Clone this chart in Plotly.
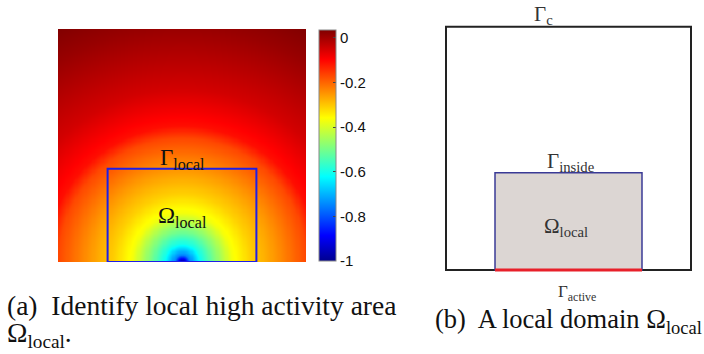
import numpy as np
import plotly.graph_objects as go

# radial profile: distance from bottom-centre source (in half-widths) -> value
profile_r = [0.0, 0.025, 0.06, 0.15, 0.25, 0.40, 0.55, 0.75, 1.0, 1.1, 1.4, 1.9, 2.15]
profile_v = [-1.0, -0.9, -0.75, -0.6, -0.5, -0.37, -0.31, -0.25, -0.17, -0.11, -0.05, 0.01, 0.035]
cbar_ticks = [0, -0.2, -0.4, -0.6, -0.8, -1]
cbar_labels = ["0", "-0.2", "-0.4", "-0.6", "-0.8", "-1"]
z_min, z_max = -1.0, 0.035
local_x = [0.2, 0.8]
local_y = [0.0, 0.4]
outer_x = [0.0, 1.0]
outer_y = [0.0, 1.0]

W, H = 704, 354
def px(v):
    return v / W
def py(v):
    return 1 - v / H

nx, ny = 220, 210
xc = (np.arange(nx) + 0.5) / nx
yc = (np.arange(ny) + 0.5) / ny
X, Y = np.meshgrid(xc, yc)
aspect = 233 / 124.0
R = np.sqrt(((X - 0.5) * 2) ** 2 + (Y * aspect) ** 2)
Z = np.interp(R, profile_r, profile_v)

jet = [[0.0, 'rgb(0,0,143)'], [0.11, 'rgb(0,0,255)'], [0.365, 'rgb(0,255,255)'],
       [0.62, 'rgb(255,255,0)'], [0.873, 'rgb(255,0,0)'], [1.0, 'rgb(128,0,0)']]

fig = go.Figure()
fig.add_trace(go.Heatmap(
    x=xc, y=yc, z=Z, colorscale=jet, zmin=z_min, zmax=z_max, zsmooth='best',
    hoverinfo='skip', xaxis='x', yaxis='y',
    colorbar=dict(
        x=px(319), xanchor='left', y=py(261), yanchor='bottom',
        len=231, lenmode='pixels', thickness=17, thicknessmode='pixels',
        outlinewidth=1, outlinecolor='#888', xpad=0, ypad=0,
        tickvals=cbar_ticks, ticktext=cbar_labels,
        ticks='inside', ticklen=3, tickcolor='#444',
        tickfont=dict(family='Liberation Sans', size=15, color='#111'),
    ),
))

pad = 0.02
fig.update_layout(
    width=W, height=H, margin=dict(l=0, r=0, t=0, b=0),
    paper_bgcolor='white', plot_bgcolor='white', showlegend=False,
    xaxis=dict(domain=[px(58), px(306)], range=[0, 1], visible=False, fixedrange=True),
    yaxis=dict(domain=[py(262), py(29)], range=[0, 1], visible=False, fixedrange=True),
    xaxis2=dict(domain=[px(446 - 245 * pad), px(691 + 245 * pad)], range=[-pad, 1 + pad],
                visible=False, anchor='y2'),
    yaxis2=dict(domain=[py(270 + 243.3 * pad), py(26.7 - 243.3 * pad)], range=[-pad, 1 + pad],
                visible=False, anchor='x2'),
)

shapes = []
shapes.append(dict(type='rect', xref='x', yref='y', x0=local_x[0], x1=local_x[1],
                   y0=local_y[0], y1=local_y[1], line=dict(color='rgb(30,30,230)', width=2)))
shapes.append(dict(type='rect', xref='x2', yref='y2', x0=outer_x[0], x1=outer_x[1],
                   y0=outer_y[0], y1=outer_y[1], line=dict(color='#222', width=2)))
shapes.append(dict(type='rect', xref='x2', yref='y2', x0=local_x[0], x1=local_x[1],
                   y0=local_y[0], y1=local_y[1], fillcolor='#dcd6d3',
                   line=dict(color='#3a3a96', width=1.5)))
shapes.append(dict(type='line', xref='x2', yref='y2', x0=local_x[0], x1=local_x[1],
                   y0=outer_y[0], y1=outer_y[0], line=dict(color='#e8202a', width=3)))
fig.update_layout(shapes=shapes)

math_font = dict(family='Liberation Serif', size=23, color='#111')
math_font_r = dict(family='Liberation Serif', size=21, color='#333')
cap_font = dict(family='Liberation Serif', size=27.5, color='#111')

ann = []
def add(text, x, y, font, xanchor='center'):
    ann.append(dict(text=text, x=px(x), y=py(y), xref='paper', yref='paper',
                    xanchor=xanchor, yanchor='middle', showarrow=False, font=font))

add('Γ<sub>local</sub>', 182, 159, math_font)
add('Ω<sub>local</sub>', 182, 217, math_font)
add('Γ<sub>c</sub>', 543, 15, math_font_r)
add('Γ<sub>inside</sub>', 571, 162, math_font_r)
add('Ω<sub>local</sub>', 566, 227, math_font_r)
add('Γ<sub>active</sub>', 577, 293, dict(family='Liberation Serif', size=17, color='#333'))

add('(a)  Identify local high activity area', 5, 305, cap_font, xanchor='left')
add('Ω<sub>local</sub>.', 5, 334, cap_font, xanchor='left')
add('(b)  A local domain Ω<sub>local</sub>', 433, 321, dict(family='Liberation Serif', size=26.5, color='#111'), xanchor='left')
fig.update_layout(annotations=ann)

fig.write_html('out.html', config={'displayModeBar': False},
               post_script="document.body.style.margin='0px';document.body.style.overflow='hidden';")
